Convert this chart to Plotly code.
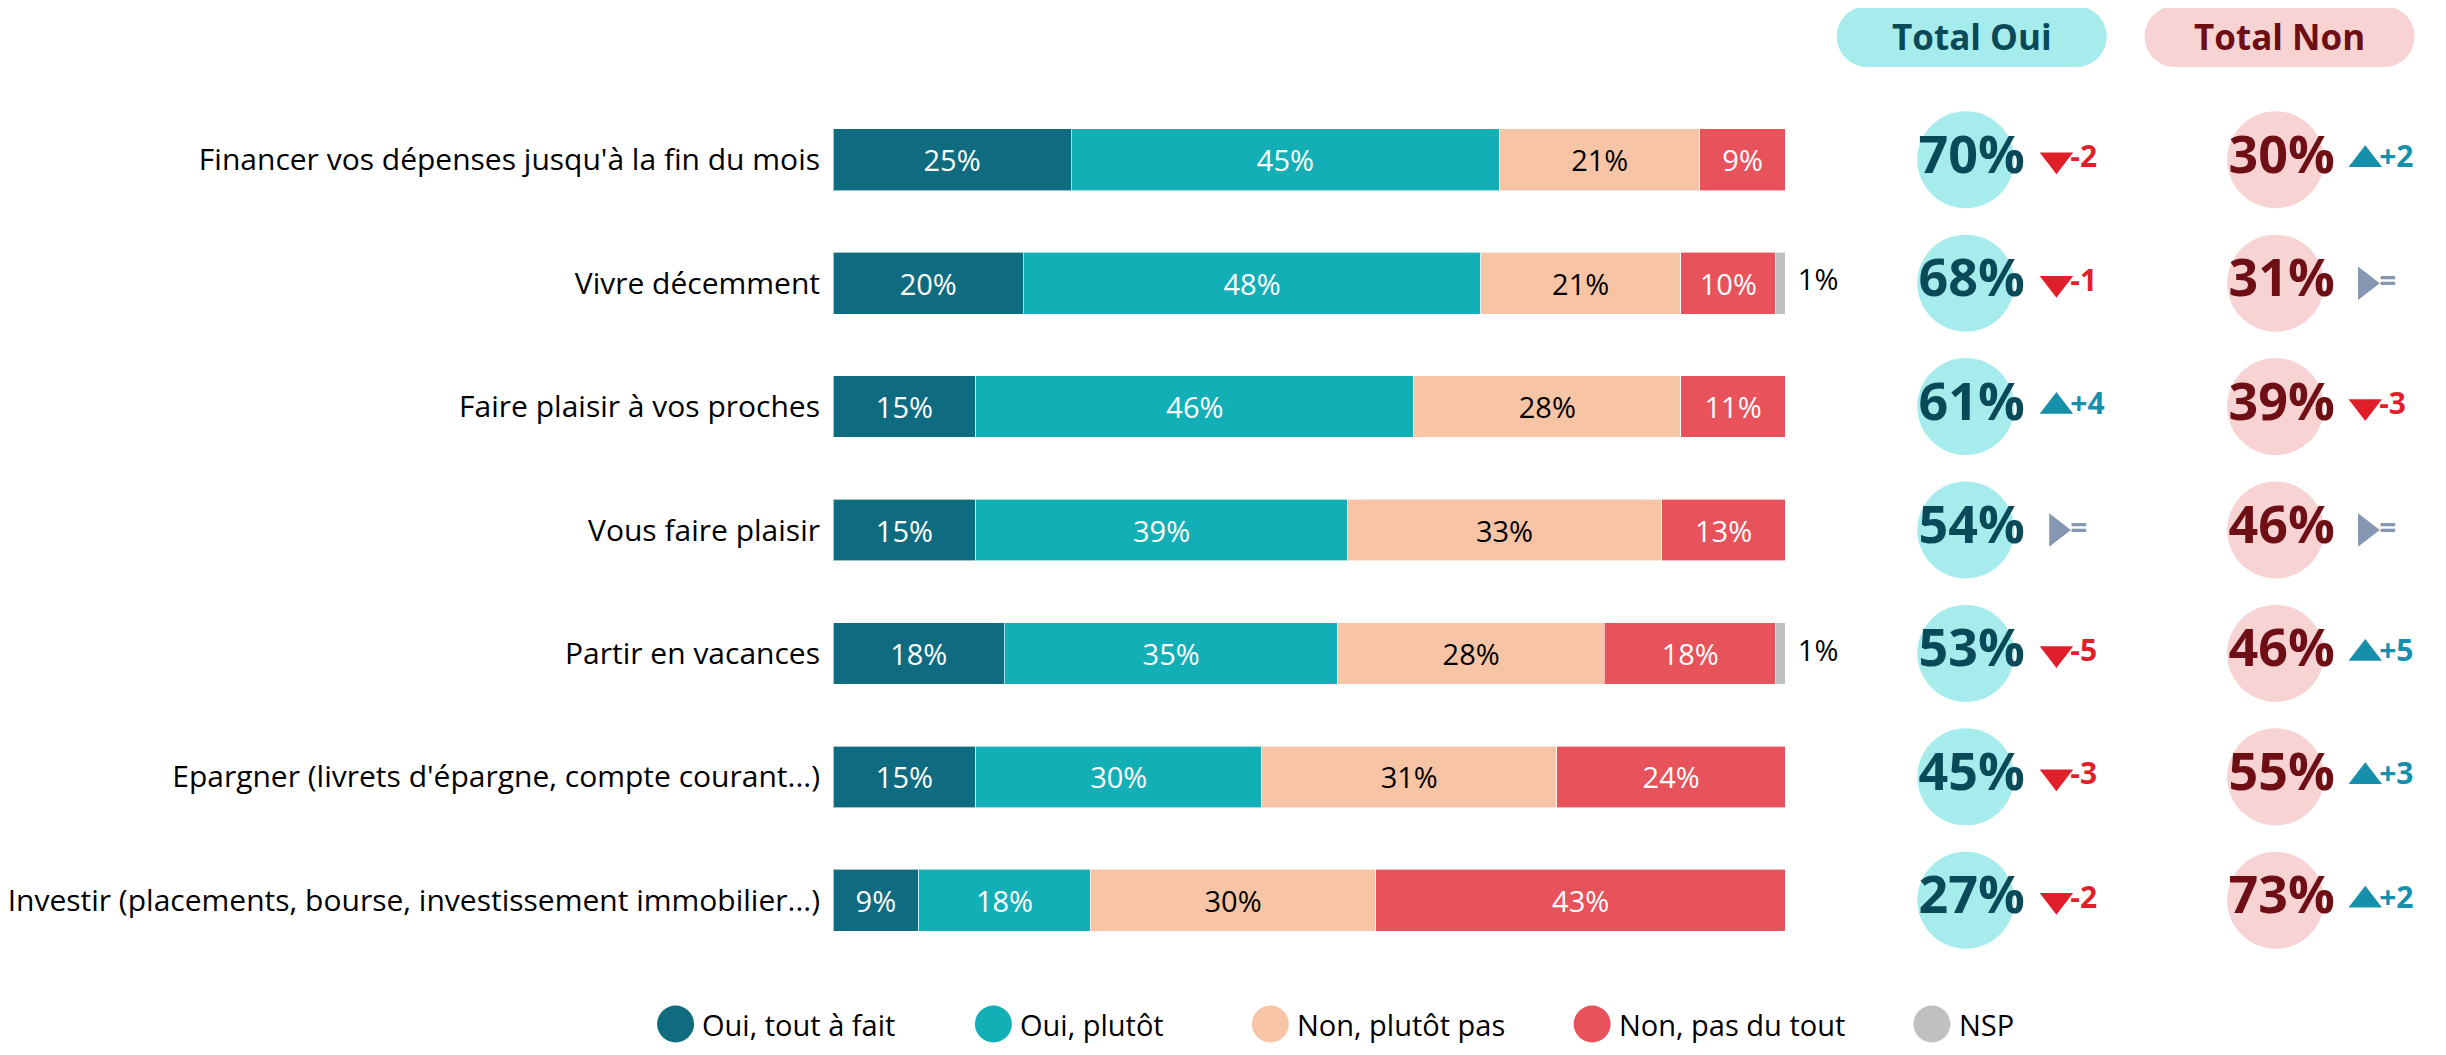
import plotly.graph_objects as go

# ---------------- data ----------------
categories = [
    "Financer vos dépenses jusqu'à la fin du mois",
    "Vivre décemment",
    "Faire plaisir à vos proches",
    "Vous faire plaisir",
    "Partir en vacances",
    "Epargner (livrets d'épargne, compte courant...)",
    "Investir (placements, bourse, investissement immobilier...)",
]
oui_tout = [25, 20, 15, 15, 18, 15, 9]
oui_plutot = [45, 48, 46, 39, 35, 30, 18]
non_plutot = [21, 21, 28, 33, 28, 31, 30]
non_pas = [9, 10, 11, 13, 18, 24, 43]
nsp = [0, 1, 0, 0, 1, 0, 0]
total_oui = [70, 68, 61, 54, 53, 45, 27]
total_non = [30, 31, 39, 46, 46, 55, 73]
delta_oui = [-2, -1, 4, 0, -5, -3, -2]
delta_non = [2, 0, -3, 0, 5, 3, 2]
series_names = ["Oui, tout à fait", "Oui, plutôt", "Non, plutôt pas", "Non, pas du tout", "NSP"]
header_labels = ["Total Oui", "Total Non"]

# ---------------- style ----------------
# page body has an 8px margin: figure is 16px smaller than the window
OFF = 8
W, H = 2446 - 2 * OFF, 1055 - 2 * OFF
REF_LEFT, REF_TOP, REF_BOTTOM = 827, 97.5, 962   # plot area in window pixels
ML, MR = REF_LEFT - OFF, 0
MT = int(round(REF_TOP - OFF))
MB = H - int(round(REF_BOTTOM - OFF))
PX_PER_UNIT = 9.56
PLOT_W = W - ML - MR
PLOT_H = H - MT - MB
XMAX = PLOT_W / PX_PER_UNIT
FONT = "Open Sans"
colors = ["#0f6b7f", "#13afb7", "#f7c4a5", "#e8525a", "#c0c0c0"]
text_colors = ["white", "white", "black", "white", "black"]
CYAN_BG, PINK_BG = "#a7ecec", "#f8d3d3"
OUI_TXT, NON_TXT = "#0a4a58", "#6e0e15"
UP_C, DOWN_C, EQ_C = "#168fab", "#e01f2a", "#8597b1"


def ux(px):
    return (px - REF_LEFT) / PX_PER_UNIT


def py_paper(py):
    return (REF_BOTTOM - py) / PLOT_H


def px_paper(px):
    return (px - REF_LEFT) / PLOT_W


fig = go.Figure()
series = [oui_tout, oui_plutot, non_plutot, non_pas, nsp]
for name, vals, col, tc in zip(series_names, series, colors, text_colors):
    texts = [f"{v}%" if (v > 0 and name != "NSP") else "" for v in vals]
    fig.add_trace(go.Bar(
        y=categories, x=vals, orientation="h", name=name,
        marker=dict(color=col, line=dict(color="rgba(255,255,255,0.6)", width=1)),
        text=texts, textposition="inside", insidetextanchor="middle",
        textangle=0, constraintext="none",
        textfont=dict(family=FONT, size=29, color=tc),
        showlegend=False, hoverinfo="skip",
    ))

# NSP labels outside the bar
ends = [a + b + c + d + e for a, b, c, d, e in zip(*series)]
nsp_y = [c for c, v in zip(categories, nsp) if v > 0]
nsp_x = [e + 1.3 for e, v in zip(ends, nsp) if v > 0]
nsp_t = [f"{v}%" for v in nsp if v > 0]
fig.add_trace(go.Scatter(
    y=nsp_y, x=nsp_x, text=nsp_t, mode="text", textposition="middle right",
    textfont=dict(family=FONT, size=29, color="black"), showlegend=False, hoverinfo="skip",
))

# Total circles + values
for totals, deltas, cx, tx, mx, dx, bg, tcol in [
    (total_oui, delta_oui, ux(1964), ux(1970), ux(2055), ux(2069), CYAN_BG, OUI_TXT),
    (total_non, delta_non, ux(2275), ux(2281), ux(2365), ux(2379), PINK_BG, NON_TXT),
]:
    fig.add_trace(go.Scatter(
        y=categories, x=[cx] * len(categories), mode="markers",
        marker=dict(size=97, color=bg, line=dict(width=0)),
        showlegend=False, hoverinfo="skip",
    ))
    fig.add_trace(go.Scatter(
        y=categories, x=[tx] * len(categories), mode="text",
        text=[f"{v}%" for v in totals], textposition="middle center",
        textfont=dict(family=FONT, size=52, color=tcol, weight="bold"),
        showlegend=False, hoverinfo="skip",
    ))
    syms = ["triangle-up" if d > 0 else ("triangle-down" if d < 0 else "triangle-right") for d in deltas]
    cols = [UP_C if d > 0 else (DOWN_C if d < 0 else EQ_C) for d in deltas]
    fig.add_trace(go.Scatter(
        y=categories, x=[mx] * len(categories), mode="markers",
        marker=dict(symbol=syms, size=29, color=cols, line=dict(width=0)),
        showlegend=False, hoverinfo="skip",
    ))
    fig.add_trace(go.Scatter(
        y=categories, x=[dx] * len(categories), mode="text",
        text=[(f"+{d}" if d > 0 else (f"{d}" if d < 0 else "=")) for d in deltas],
        textposition="middle right",
        textfont=dict(family=FONT, size=30, color=cols, weight="bold"),
        showlegend=False, hoverinfo="skip",
    ))


# header pills
def pill_path(w, h):
    r = h / 2
    a = w / 2 - r
    k = 0.5523 * r
    return (f"M {-a},{-r} L {a},{-r} "
            f"C {a + k},{-r} {a + r},{-k} {a + r},0 "
            f"C {a + r},{k} {a + k},{r} {a},{r} "
            f"L {-a},{r} "
            f"C {-a - k},{r} {-a - r},{k} {-a - r},0 "
            f"C {-a - r},{-k} {-a - k},{-r} {-a},{-r} Z")


head_y = py_paper(36.5)
shapes = []
annotations = []
for label, cxp, bg, tcol in [(header_labels[0], 1970, CYAN_BG, OUI_TXT),
                             (header_labels[1], 2279, PINK_BG, NON_TXT)]:
    shapes.append(dict(
        type="path", xref="x", yref="paper", xsizemode="pixel", ysizemode="pixel",
        xanchor=ux(cxp), yanchor=head_y, path=pill_path(270, 61),
        fillcolor=bg, line=dict(width=0), layer="below",
    ))
    annotations.append(dict(
        x=ux(cxp), y=head_y, xref="x", yref="paper", text=label, showarrow=False,
        font=dict(family=FONT, size=35, color=tcol, weight="bold"),
        xanchor="center", yanchor="middle",
    ))

# legend (manual, large circles)
leg_y = py_paper(1024)
leg_centers = [669, 988, 1266, 1589, 1930]
for name, col, cpx in zip(series_names, colors, leg_centers):
    shapes.append(dict(
        type="circle", xref="paper", yref="paper", xsizemode="pixel", ysizemode="pixel",
        xanchor=px_paper(cpx), yanchor=leg_y, x0=-18.5, x1=18.5, y0=-18.5, y1=18.5,
        fillcolor=col, line=dict(width=0),
    ))
    annotations.append(dict(
        x=px_paper(cpx + 26), y=leg_y, xref="paper", yref="paper", text=name,
        showarrow=False, xanchor="left", yanchor="middle", borderpad=0,
        font=dict(family=FONT, size=29, color="black"),
    ))

fig.update_layout(
    width=W, height=H,
    margin=dict(l=ML, r=MR, t=MT, b=MB, pad=0),
    barmode="stack", bargap=0.5,
    plot_bgcolor="white", paper_bgcolor="white",
    xaxis=dict(range=[0, XMAX], visible=False, fixedrange=True),
    yaxis=dict(type="category", categoryorder="array", categoryarray=categories,
               range=[6.5, -0.5], showgrid=False, zeroline=False, showline=False,
               ticks="", ticklabelstandoff=12,
               tickfont=dict(family=FONT, size=30, color="black")),
    shapes=shapes, annotations=annotations,
    font=dict(family=FONT),
)

fig.write_html("out.html")
